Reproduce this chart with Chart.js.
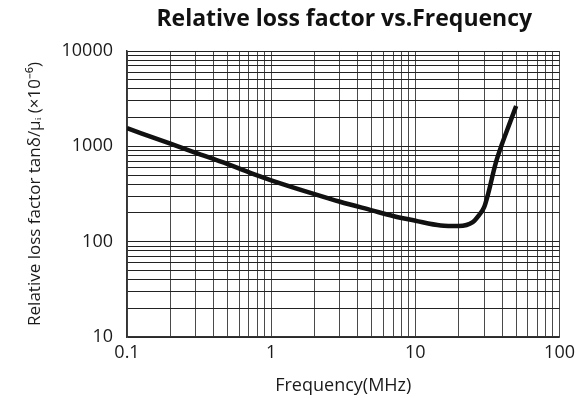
<!DOCTYPE html>
<html>
<head>
<meta charset="utf-8">
<script src="https://cdn.jsdelivr.net/npm/chart.js@4"></script>
<style>
  html, body { margin: 0; padding: 0; background: #fff; }
  #wrap { width: 580px; height: 398px; }
</style>
</head>
<body>
<div id="wrap"><canvas id="myChart" width="580" height="398"></canvas></div>
<script>
// values (log-log)
const freqMHz = [0.1, 0.2, 0.3, 0.5, 0.8, 1, 2, 3, 5, 7, 10, 15, 20, 25, 27.5, 30, 32, 36, 40, 45, 50];
const lossFactor = [1550, 1065, 855, 650, 495, 440, 315, 262, 213, 186, 166, 148, 146, 160, 188, 230, 320, 660, 1070, 1730, 2650];

const xDecades = [0.1, 1, 10, 100];
const yDecades = [10, 100, 1000, 10000];
const minorSteps = [1, 2, 3, 4, 5, 6, 7, 8, 9];

const chartTitle = 'Relative loss factor vs.Frequency';
const xTitle = 'Frequency(MHz)';
const yTitle = 'Relative loss factor tanδ/μᵢ (×10⁻⁶)';

// grid ticks 1..9 per decade, labels only at the decades
function gridTicks(decades) {
  const out = [];
  decades.forEach((d, i) => {
    if (i === decades.length - 1) { out.push({ value: d }); return; }
    minorSteps.forEach(m => out.push({ value: +(d * m).toPrecision(3) }));
  });
  return out;
}
const isDecade = (v, decades) => decades.some(d => Math.abs(d - v) / d < 1e-6);

const titlePlugin = {
  id: 'topTitle',
  afterDraw(chart) {
    const { ctx, chartArea } = chart;
    ctx.save();
    ctx.font = 'bold 23px "Open Sans"';
    ctx.fillStyle = '#111';
    ctx.textAlign = 'center';
    ctx.textBaseline = 'alphabetic';
    ctx.fillText(chartTitle, (chartArea.left + chartArea.right) / 2 + 1, 26);
    ctx.restore();
  }
};

const myChartRef = document.getElementById('myChart').getContext('2d');
new Chart(myChartRef, {
  type: 'line',
  data: {
    datasets: [{
      label: 'tanδ/μi',
      data: freqMHz.map((f, i) => ({ x: f, y: lossFactor[i] })),
      borderColor: '#111',
      borderWidth: 4.5,
      pointRadius: 0,
      fill: false,
      cubicInterpolationMode: 'monotone'
    }]
  },
  plugins: [titlePlugin],
  options: {
    responsive: false,
    animation: false,
    layout: { padding: { top: 51, right: 13, left: 0, bottom: 0 } },
    plugins: { legend: { display: false }, tooltip: { enabled: false } },
    scales: {
      x: {
        type: 'logarithmic',
        min: 0.1, max: 100,
        afterBuildTicks: s => { s.ticks = gridTicks(xDecades); },
        afterFit: s => { s.height = 61; },
        grid: { color: '#4a4a4a', lineWidth: 1, drawTicks: false },
        border: { color: '#333', width: 1.5 },
        ticks: {
          autoSkip: false, maxRotation: 0, padding: 5,
          color: '#1a1a1a', font: { family: 'Open Sans', size: 18 },
          callback: v => isDecade(v, xDecades) ? String(v) : ''
        },
        title: {
          display: true, text: xTitle, color: '#1a1a1a',
          font: { family: 'Open Sans', size: 18 },
          padding: { top: 0, bottom: 1 }
        }
      },
      y: {
        type: 'logarithmic',
        min: 10, max: 10000,
        afterBuildTicks: s => { s.ticks = gridTicks(yDecades); },
        afterFit: s => { s.width = 127; },
        grid: { color: '#222', lineWidth: 1, drawTicks: false },
        border: { color: '#333', width: 1.5 },
        ticks: {
          autoSkip: false, padding: 14,
          color: '#1a1a1a', font: { family: 'Open Sans', size: 18 },
          callback: v => isDecade(v, yDecades) ? String(v) : ''
        },
        title: {
          display: true, text: yTitle, color: '#1a1a1a',
          font: { family: 'Open Sans', size: 17 },
          padding: { top: 25, bottom: 0 }
        }
      }
    }
  }
});
</script>
</body>
</html>
